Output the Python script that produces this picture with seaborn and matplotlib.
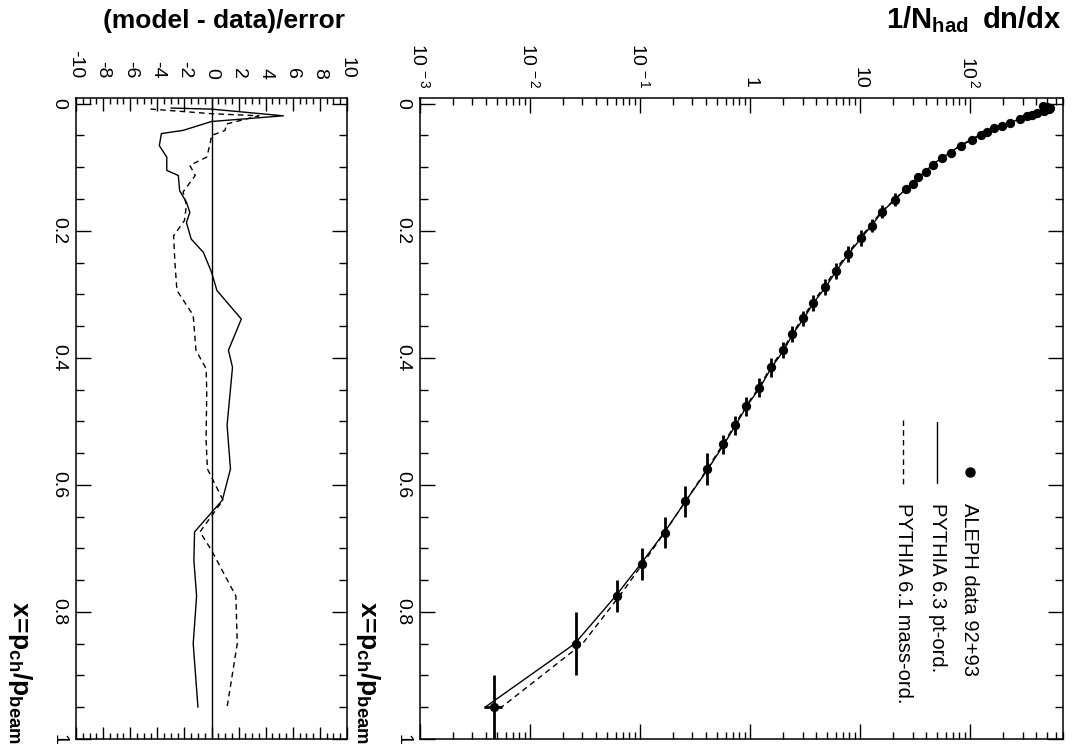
import matplotlib
matplotlib.use("Agg")
import matplotlib.pyplot as plt
from matplotlib.lines import Line2D
from matplotlib.ticker import FixedLocator, FixedFormatter, MultipleLocator, LogLocator, NullFormatter
import numpy as np
import pandas as pd
import seaborn as sns

# ---------------- data ----------------
x_bin = [0.003, 0.005, 0.007, 0.009, 0.011, 0.014, 0.017, 0.020, 0.024, 0.030,
         0.035, 0.039, 0.044, 0.049, 0.057, 0.066, 0.077, 0.086, 0.096, 0.107,
         0.116, 0.126, 0.135, 0.151, 0.170, 0.192, 0.212, 0.237, 0.263, 0.289,
         0.313, 0.338, 0.363, 0.388, 0.415, 0.447, 0.476, 0.506, 0.536, 0.575,
         0.626, 0.675, 0.725, 0.775, 0.850, 0.950]
x_halfwidth = [0.001] * 5 + [0.0025] * 9 + [0.005] * 9 + [0.01] * 3 + [0.0125] * 8 + \
              [0.015] * 5 + [0.025] * 5 + [0.05] * 2
dndx = [460, 500, 530, 525, 470, 406, 366, 330, 285, 231,
        195, 165, 143, 126, 104, 83, 67, 56, 46, 40,
        34, 30, 26, 21, 16, 12.8, 10.2, 7.8, 6.05, 4.8,
        3.74, 3.03, 2.41, 2.0, 1.55, 1.21, 0.92, 0.73, 0.57, 0.41,
        0.257, 0.169, 0.104, 0.0618, 0.0262, 0.0047]
dndx_err = [5, 5, 5, 5, 5, 4, 3.5, 3, 2.5, 2,
            1.6, 1.3, 1.1, 1.0, 0.8, 0.6, 0.5, 0.4, 0.35, 0.3,
            0.25, 0.22, 0.2, 0.15, 0.12, 0.1, 0.08, 0.06, 0.05, 0.04,
            0.03, 0.025, 0.02, 0.018, 0.014, 0.012, 0.01, 0.008, 0.007, 0.005,
            0.004, 0.003, 0.002, 0.0015, 0.0012, 0.0009]
pythia63 = [455, 505, 535, 525, 475, 410, 368, 330, 283, 229,
            192, 161, 139, 122, 101, 81, 65.5, 54.8, 45.2, 39.3,
            33.5, 29.6, 25.7, 20.8, 15.9, 12.7, 10.2, 7.8, 6.1, 4.85,
            3.8, 3.08, 2.44, 2.03, 1.57, 1.23, 0.935, 0.74, 0.58, 0.415,
            0.259, 0.166, 0.101, 0.060, 0.0255, 0.0039]
pythia61 = [440, 495, 530, 525, 472, 408, 368, 331, 285, 231,
            195, 165, 143, 126, 103.5, 82, 66, 54.5, 45.3, 39.2,
            33.3, 29.4, 25.5, 20.6, 15.6, 12.4, 9.9, 7.6, 5.9, 4.7,
            3.7, 3.0, 2.39, 1.98, 1.54, 1.205, 0.915, 0.727, 0.568, 0.408,
            0.258, 0.167, 0.105, 0.065, 0.030, 0.0055]

res63_x = [0.0068, 0.0085, 0.019, 0.028, 0.042, 0.047, 0.066, 0.084, 0.105, 0.113,
           0.137, 0.155, 0.171, 0.187, 0.213, 0.234, 0.265, 0.294, 0.339, 0.388,
           0.415, 0.506, 0.575, 0.624, 0.674, 0.719, 0.775, 0.850, 0.950]
res63 = [-3.0, 0.0, 5.3, 0.0, -2.1, -3.7, -3.85, -3.3, -3.3, -2.45,
         -2.35, -1.85, -1.6, -1.85, -1.5, -0.6, 0.0, 0.4, 2.2, 1.25,
         1.55, 1.15, 1.4, 0.8, -1.25, -1.3, -1.1, -1.35, -1.0]
res61_x = [0.0084, 0.0157, 0.019, 0.032, 0.042, 0.050, 0.063, 0.084, 0.097, 0.113,
           0.139, 0.160, 0.184, 0.208, 0.250, 0.294, 0.333, 0.388, 0.417, 0.451,
           0.530, 0.575, 0.624, 0.674, 0.703, 0.775, 0.850, 0.950]
res61 = [-4.5, 0.0, 3.5, 1.1, 1.0, 0.0, -0.1, -0.35, -1.6, -1.2,
         -2.1, -1.85, -2.0, -2.8, -2.7, -2.55, -1.35, -1.15, -0.4, -0.35,
         -0.4, -0.3, 0.85, -0.85, 0.0, 1.8, 1.9, 1.15]

x_ticks = [0, 0.2, 0.4, 0.6, 0.8, 1]
x_ticklabels = ["0", "0.2", "0.4", "0.6", "0.8", "1"]
res_ticks = [-10, -8, -6, -4, -2, 0, 2, 4, 6, 8, 10]
log_ticks = [1e-3, 1e-2, 1e-1, 1, 10, 100]
log_ticklabels = [r"$10^{\,-3}$", r"$10^{\,-2}$", r"$10^{\,-1}$", "1", "10", r"$10^{\,2}$"]

# ---------------- style ----------------
sns.set_theme(style="ticks")
plt.rcParams['font.family'] = ['Liberation Sans', 'DejaVu Sans']
plt.rcParams['mathtext.fontset'] = 'custom'
plt.rcParams['mathtext.rm'] = 'Liberation Sans'
plt.rcParams['mathtext.it'] = 'Liberation Sans:italic'
plt.rcParams['mathtext.bf'] = 'Liberation Sans:bold'
plt.rcParams['axes.linewidth'] = 1.1
plt.rcParams['axes.edgecolor'] = 'black'
plt.rcParams['text.color'] = 'black'
plt.rcParams['xtick.color'] = 'black'
plt.rcParams['ytick.color'] = 'black'
plt.rcParams['xtick.labelcolor'] = 'black'
plt.rcParams['ytick.labelcolor'] = 'black'
plt.rcParams['axes.labelcolor'] = 'black'

W, H = 1072, 747
fig = plt.figure(figsize=(W / 100, H / 100), dpi=100)
fig.patch.set_facecolor('white')


def rect(l, t, r, b):
    return [l / W, 1 - b / H, (r - l) / W, (b - t) / H]


def fx(px):
    return px / W


def fy(py):
    return 1 - py / H


axL = fig.add_axes(rect(76, 98, 347, 739))
axR = fig.add_axes(rect(420, 98, 1063, 739))

# ---------------- left panel: residuals ----------------
df63 = pd.DataFrame({"x": res63_x, "r": res63})
df61 = pd.DataFrame({"x": res61_x, "r": res61})
sns.lineplot(data=df63, x="r", y="x", orient="y", sort=False, estimator=None,
             color="black", lw=1.0, ax=axL)
sns.lineplot(data=df61, x="r", y="x", orient="y", sort=False, estimator=None,
             color="black", lw=1.0, linestyle=(0, (4, 3)), ax=axL)
axL.axvline(0, color="black", lw=1.0)
axL.set_xlim(-10, 10)
axL.set_ylim(1, -0.009)
axL.xaxis.set_major_locator(FixedLocator(res_ticks))
axL.xaxis.set_minor_locator(MultipleLocator(0.5))
axL.set_xticklabels([str(t) for t in res_ticks])
axL.tick_params(axis='x', which='both', direction='in', top=True, bottom=True,
                labeltop=True, labelbottom=False, labelsize=14, pad=14,
                labelrotation=-90)
axL.tick_params(axis='x', which='major', length=9, width=1.0)
axL.tick_params(axis='x', which='minor', length=4.5, width=1.0)

# ---------------- right panel: spectrum ----------------
dfd = pd.DataFrame({"x": x_bin, "v": dndx})
dfm = pd.DataFrame({"x": x_bin, "p63": pythia63, "p61": pythia61})
sns.lineplot(data=dfm, x="p63", y="x", orient="y", sort=False, estimator=None,
             color="black", lw=1.0, ax=axR)
sns.lineplot(data=dfm, x="p61", y="x", orient="y", sort=False, estimator=None,
             color="black", lw=1.0, linestyle=(0, (4, 3)), ax=axR)
axR.errorbar(x=dndx, y=x_bin, yerr=x_halfwidth, xerr=dndx_err, fmt='none',
             ecolor='black', elinewidth=2.0, capsize=0)
sns.scatterplot(data=dfd, x="v", y="x", color="black", s=45, linewidth=0,
                ax=axR, zorder=5)
axR.set_xscale('log')
axR.set_xlim(1e-3, 700)
axR.set_ylim(1, -0.009)
axR.xaxis.set_major_locator(FixedLocator(log_ticks))
axR.xaxis.set_major_formatter(FixedFormatter(log_ticklabels))
axR.xaxis.set_minor_locator(LogLocator(base=10, subs=np.arange(2, 10)))
axR.xaxis.set_minor_formatter(NullFormatter())
axR.tick_params(axis='x', which='both', direction='in', top=True, bottom=True,
                labeltop=True, labelbottom=False, labelsize=14, pad=7,
                labelrotation=-90)
axR.tick_params(axis='x', which='major', length=11, width=1.0)
axR.tick_params(axis='x', which='minor', length=5, width=1.0)

for ax in (axL, axR):
    ax.set_xlabel("")
    ax.set_ylabel("")
    ax.yaxis.set_major_locator(FixedLocator(x_ticks))
    ax.yaxis.set_major_formatter(FixedFormatter(x_ticklabels))
    ax.yaxis.set_minor_locator(MultipleLocator(0.05))
    ax.tick_params(axis='y', which='both', direction='in', left=True, right=True,
                   labelleft=True, labelright=False, labelsize=14, pad=6,
                   labelrotation=-90)
    ax.tick_params(axis='y', which='major', length=11, width=1.0)
    ax.tick_params(axis='y', which='minor', length=6, width=1.0)
    for lab in ax.get_yticklabels():
        lab.set_verticalalignment('center')
    for s in ax.spines.values():
        s.set_visible(True)
        s.set_linewidth(1.1)
        s.set_color('black')
    leg = ax.get_legend()
    if leg is not None:
        leg.remove()

# ---------------- titles / axis labels ----------------
fig.text(fx(345), fy(28), "(model - data)/error", fontsize=19, fontweight='bold',
         ha='right', va='baseline', color='black')
fig.text(fx(1062), fy(28), r"$\mathbf{1/N_{had}\;\;dn/dx}$", fontsize=21,
         ha='right', va='baseline', color='black')
xlab = r"$\mathbf{x\!=\!p_{ch}/p_{beam}}$"
fig.text(fx(20), fy(744), xlab, fontsize=19, rotation=-90, ha='center', va='bottom',
         color='black')
fig.text(fx(368), fy(744), xlab, fontsize=19, rotation=-90, ha='center', va='bottom',
         color='black')

# ---------------- legend (rotated, drawn by hand) ----------------
fig.add_artist(Line2D([fx(970)], [fy(472)], marker='o', markersize=6.5,
                      color='black', linestyle='none', transform=fig.transFigure))
fig.add_artist(Line2D([fx(937), fx(937)], [fy(422), fy(483)], color='black',
                      lw=1.0, transform=fig.transFigure))
fig.add_artist(Line2D([fx(903), fx(903)], [fy(420), fy(485)], color='black',
                      lw=1.0, linestyle=(0, (4, 3)), transform=fig.transFigure))
legend_texts = ["ALEPH data 92+93", "PYTHIA 6.3 pt-ord.", "PYTHIA 6.1 mass-ord."]
for txt, cx in zip(legend_texts, [970, 937, 903]):
    fig.text(fx(cx), fy(503), txt, fontsize=14.5, rotation=-90,
             ha='center', va='top', color='black')

fig.savefig("out.png", dpi=100, facecolor='white')
